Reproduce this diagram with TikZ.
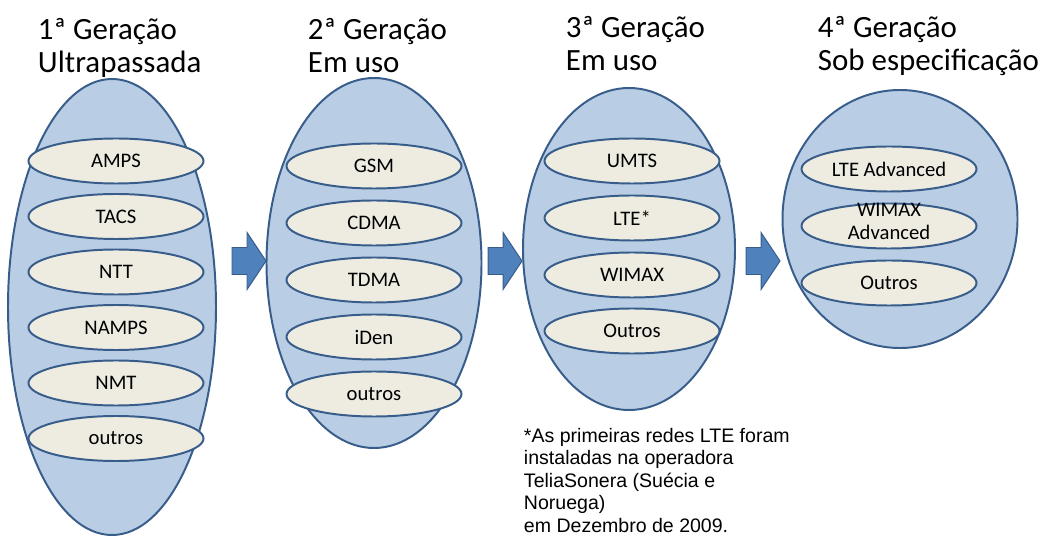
\documentclass[tikz,border=0pt]{standalone}
\usepackage{fontspec}
\setmainfont{Carlito}
\newfontfamily\notefont{Liberation Sans}
\usepackage{tikz}
\usetikzlibrary{shapes.geometric}

\definecolor{genfill}{RGB}{185,205,229}
\definecolor{genline}{RGB}{56,93,138}
\definecolor{techfill}{RGB}{238,236,225}
\definecolor{arrowfill}{RGB}{79,129,189}

\begin{document}
\begin{tikzpicture}[line width=1.4pt,
gen node/.style={ellipse,draw=genline,fill=genfill,inner sep=0pt},
tech node/.style={ellipse,draw=genline,fill=techfill,inner sep=0pt,minimum width=4.375cm,
  minimum height=1.125cm,font=\fontsize{14.7}{16.4}\selectfont},
title node/.style={anchor=base west,align=left,inner sep=0pt,font=\fontsize{22}{23.5}\selectfont},
block arrow/.style={draw=genline,fill=arrowfill,line width=0.7pt,line join=miter}]
\useasboundingbox (0, 0) rectangle (26.275, 13.45);
\node[gen node,minimum width=5.2cm,minimum height=11.4cm] (g1) at (2.8, 5.775) {};
\node[gen node,minimum width=5.375cm,minimum height=9.25cm] (g2) at (9.35, 6.875) {};
\node[gen node,minimum width=5.3cm,minimum height=8.05cm] (g3) at (15.725, 7.225) {};
\node[gen node,minimum width=5.875cm,minimum height=6.45cm] (g4) at (22.5, 7.975) {};

\node[tech node] (g1a) at (2.9, 9.425) {AMPS};
\node[tech node] (g1b) at (2.9, 8.0375) {TACS};
\node[tech node] (g1c) at (2.9, 6.65) {NTT};
\node[tech node] (g1d) at (2.9, 5.2625) {NAMPS};
\node[tech node] (g1e) at (2.9, 3.875) {NMT};
\node[tech node] (g1f) at (2.9, 2.4875) {outros};

\node[tech node] (g2a) at (9.35, 9.3) {GSM};
\node[tech node] (g2b) at (9.35, 7.875) {CDMA};
\node[tech node] (g2c) at (9.35, 6.45) {TDMA};
\node[tech node] (g2d) at (9.35, 5.025) {iDen};
\node[tech node] (g2e) at (9.35, 3.6) {outros};

\node[tech node] (g3a) at (15.8, 9.425) {UMTS};
\node[tech node] (g3b) at (15.8, 8.0) {LTE*};
\node[tech node] (g3c) at (15.8, 6.575) {WIMAX};
\node[tech node] (g3d) at (15.8, 5.175) {Outros};

\node[tech node] (g4a) at (22.225, 9.225) {LTE Advanced};
\node[tech node] (g4b) at (22.225, 7.8)
  {\raisebox{-4pt}{\smash{\begin{tabular}{@{}c@{}}WIMAX\\Advanced\end{tabular}}}};
\node[tech node] (g4c) at (22.225, 6.375) {Outros};

\draw[block arrow] (5.8, 6.5875) -- ++(0.375, 0) -- ++(0, -0.375) -- ++(0.475, 0.7125)
  -- ++(-0.475, 0.7125) -- ++(0, -0.375) -- ++(-0.375, 0) -- cycle;
\draw[block arrow] (12.2, 6.5875) -- ++(0.375, 0) -- ++(0, -0.375) -- ++(0.475, 0.7125)
  -- ++(-0.475, 0.7125) -- ++(0, -0.375) -- ++(-0.375, 0) -- cycle;
\draw[block arrow] (18.65, 6.5875) -- ++(0.375, 0) -- ++(0, -0.375) -- ++(0.475, 0.7125)
  -- ++(-0.475, 0.7125) -- ++(0, -0.375) -- ++(-0.375, 0) -- cycle;

\node[title node] (t1) at (0.925, 11.625) {1ª Geração\\Ultrapassada};
\node[title node] (t2) at (7.675, 11.625) {2ª Geração\\Em uso};
\node[title node] (t3) at (14.125, 11.675) {3ª Geração\\Em uso};
\node[title node] (t4) at (20.425, 11.675) {4ª Geração\\Sob especificação};

\node[anchor=base west,align=left,inner sep=0pt,font=\notefont\fontsize{13.9}{16}\selectfont]
  (note) at (13.075, 0.15) {*As primeiras redes LTE foram\\instaladas na operadora\\
  TeliaSonera (Suécia e\\Noruega)\\em Dezembro de 2009.};
\end{tikzpicture}
\end{document}
